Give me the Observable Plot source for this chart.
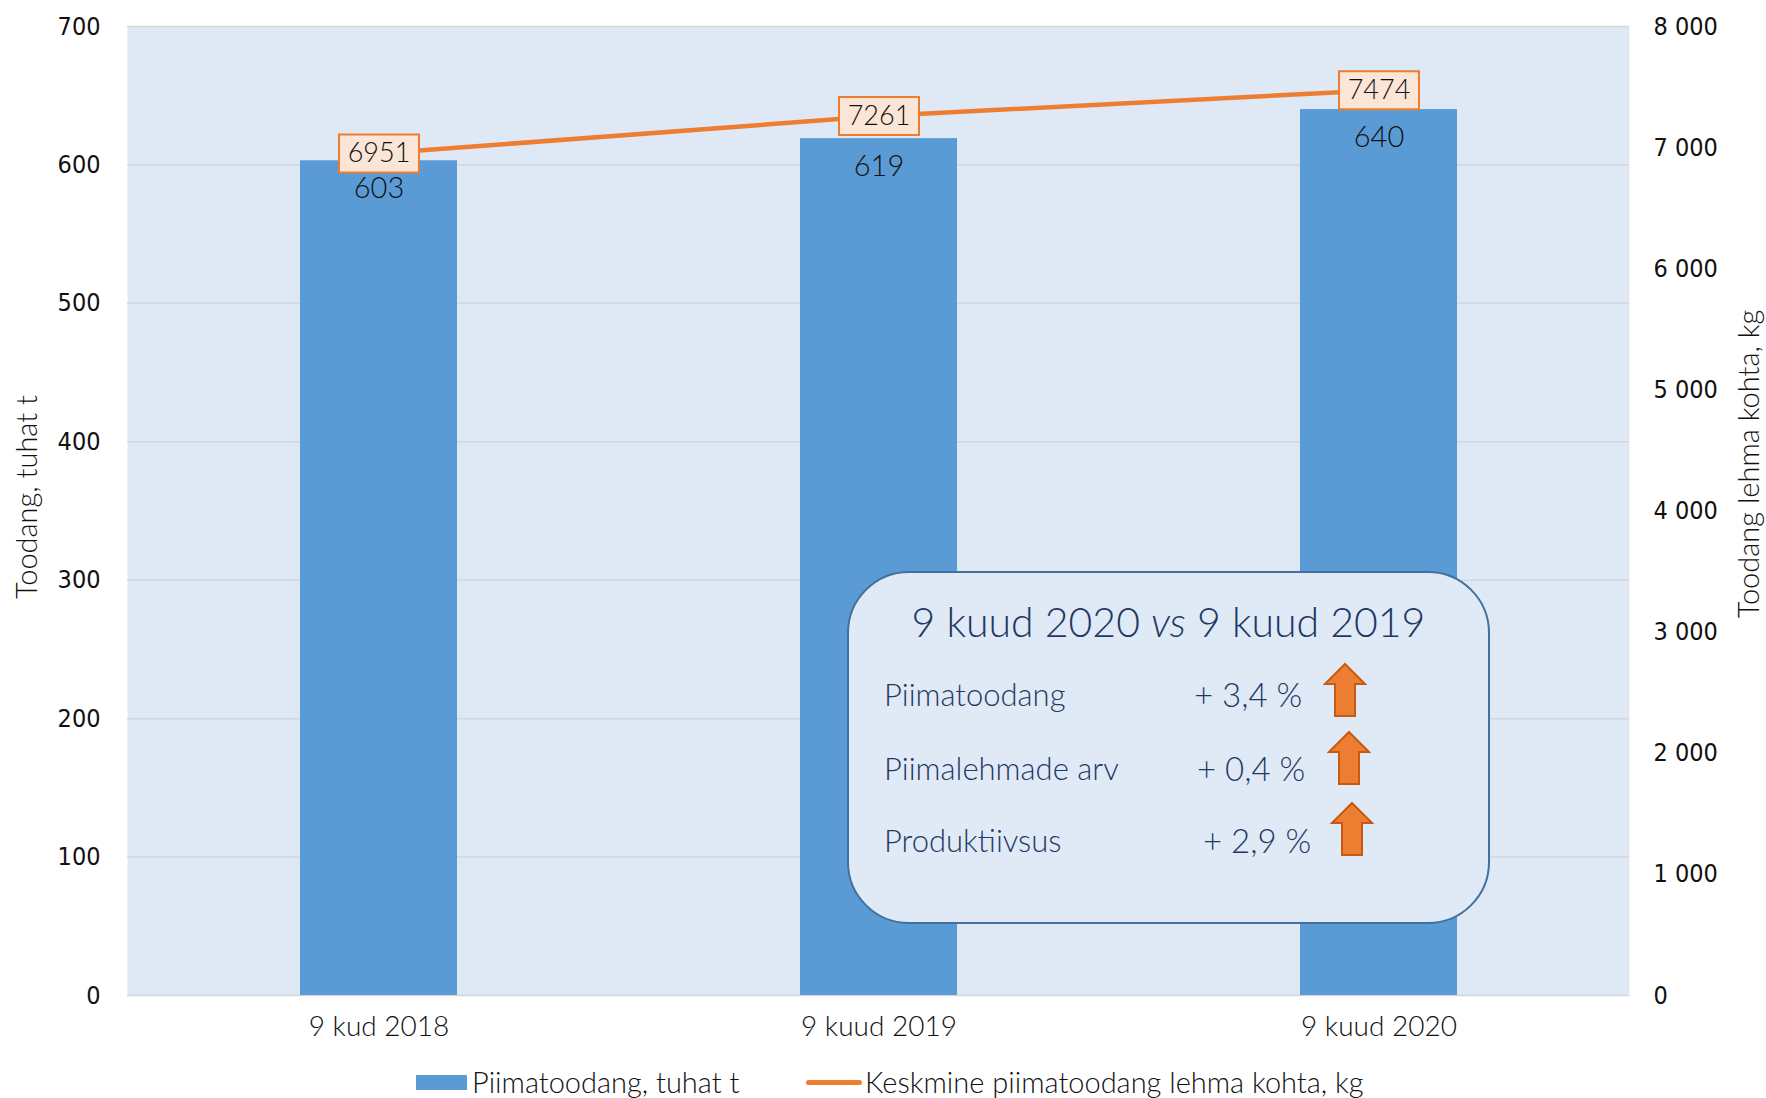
<!DOCTYPE html>
<html>
<head>
<meta charset="utf-8">
<script src="https://cdn.jsdelivr.net/npm/d3@7"></script>
<script src="https://cdn.jsdelivr.net/npm/@observablehq/plot@0.6"></script>
<style>
  html, body { margin: 0; padding: 0; background: #fff; }
  #wrap { position: relative; width: 1766px; height: 1098px; overflow: hidden; }
  #chart svg { display: block; }
  .box { position: absolute; left: 847px; top: 571px; width: 639px; height: 349px;
         border: 2.5px solid #41719c; border-radius: 62px; background: #dfeaf6;
         font-family: Lato, "Open Sans", sans-serif; font-weight: 300; color: #1f3864; }
  .box span { position: absolute; white-space: nowrap; line-height: 1; }
  .box svg { position: absolute; }
  .legend { position: absolute; top: 1066px; left: 0; width: 1766px; height: 32px;
            font-family: Lato, sans-serif; font-weight: 300; font-size: 29px; color: #111; }
  .legend span { position: absolute; white-space: nowrap; line-height: 32px; top: 0; }
  .legend i { position: absolute; display: block; }
</style>
</head>
<body>
<div id="wrap">
  <div id="chart"></div>
</div>
<script>
// ---- data ----
const categories = ["9 kud 2018", "9 kuud 2019", "9 kuud 2020"];
const production = [603, 619, 640];          // Piimatoodang, tuhat t
const perCow = [6951, 7261, 7474];           // Keskmine piimatoodang lehma kohta, kg
const leftTicks = [0, 100, 200, 300, 400, 500, 600, 700];
const rightTicks = [0, 1000, 2000, 3000, 4000, 5000, 6000, 7000, 8000];
const seriesNames = ["Piimatoodang, tuhat t", "Keskmine piimatoodang lehma kohta, kg"];
const axisTitles = ["Toodang, tuhat t", "Toodang lehma kohta, kg"];
const boxTitle = ["9 kuud 2020 ", "vs", " 9 kuud 2019"];
const boxRows = ["Piimatoodang", "Piimalehmade arv", "Produktiivsus"];
const boxValues = ["+ 3,4 %", "+ 0,4 %", "+ 2,9 %"];

const ratio = 700 / 8000;
const data = categories.map((c, i) => ({cat: c, prod: production[i], cow: perCow[i], cowY: perCow[i] * ratio}));
const fmt = v => { const n = Math.round(v); return n >= 1000 ? Math.floor(n / 1000) + " " + String(n % 1000).padStart(3, "0") : String(n); };

const boxSymbol = { draw(ctx) { ctx.rect(-40, -19, 80, 38); } };
const thin = "Lato, 'Open Sans', sans-serif";
const narrow = "'Liberation Sans Narrow', 'DejaVu Sans Condensed', sans-serif";

const chart = Plot.plot({
  width: 1766, height: 1050,
  marginTop: 26, marginBottom: 55, marginLeft: 127, marginRight: 137,
  style: { background: "transparent", color: "#111" },
  x: { type: "band", domain: categories, paddingInner: 0.686, paddingOuter: 0.343 },
  y: { domain: [0, 700] },
  marks: [
    Plot.frame({ fill: "#dee9f5", stroke: "none" }),
    Plot.ruleY(leftTicks, { stroke: "#d6d6d6", strokeWidth: 1.5 }),
    Plot.barY(data, { x: "cat", y: "prod", fill: "#5b9bd5" }),
    Plot.line(data, { x: "cat", y: "cowY", stroke: "#ed7d31", strokeWidth: 4.5 }),
    Plot.dot(data, { x: "cat", y: "cowY", symbol: boxSymbol, r: 5, fill: "#fbe5d6", stroke: "#ed7d31", strokeWidth: 2 }),
    Plot.text(data, { x: "cat", y: "cowY", text: d => String(d.cow), fontSize: 27, fontFamily: thin, fontWeight: 300, fill: "#111" }),
    Plot.text(data, { x: "cat", y: "prod", text: d => String(d.prod), dy: 28, fontSize: 29, fontFamily: thin, fontWeight: 300, fill: "#111" }),
    Plot.axisY(leftTicks, { anchor: "left", tickSize: 0, tickPadding: 27, label: null, fontSize: 25, fontFamily: narrow, fill: "#111" }),
    Plot.axisY(rightTicks.map(v => v * ratio), { anchor: "right", tickSize: 0, tickPadding: 24, label: null, tickFormat: v => fmt(v / ratio), fontSize: 25, fontFamily: narrow, fill: "#111" }),
    Plot.axisX({ anchor: "bottom", tickSize: 0, tickPadding: 21, label: null, fontSize: 28, fontFamily: thin, fontWeight: 300, fill: "#111" }),
    Plot.text([axisTitles[0]], { frameAnchor: "left", dx: -100, dy: -14, rotate: -90, textAnchor: "middle", fontSize: 29, fontFamily: thin, fontWeight: 300, fill: "#111" }),
    Plot.text([axisTitles[1]], { frameAnchor: "right", dx: 120, dy: -47, rotate: -90, textAnchor: "middle", fontSize: 29, fontFamily: thin, fontWeight: 300, fill: "#111" })
  ]
});
document.getElementById("chart").appendChild(chart);

// ---- annotation box ----
const wrap = document.getElementById("wrap");
const box = document.createElement("div");
box.className = "box";
const t = document.createElement("span");
t.style.cssText = "left:0;width:639px;text-align:center;top:28px;font-size:41px;font-weight:300;";
t.append(boxTitle[0]);
const em = document.createElement("em"); em.textContent = boxTitle[1]; t.append(em);
t.append(boxTitle[2]);
box.appendChild(t);
const rowTops = [106, 180, 252];
const valLefts = [345, 348, 354];
const arrowPos = [[474, 89], [478, 157], [481, 228]];
boxRows.forEach((r, i) => {
  const a = document.createElement("span");
  a.style.cssText = `left:35px;top:${rowTops[i]}px;font-size:31px;`;
  a.textContent = r; box.appendChild(a);
  const b = document.createElement("span");
  b.style.cssText = `left:${valLefts[i]}px;top:${rowTops[i] - 1}px;font-size:33px;`;
  b.textContent = boxValues[i]; box.appendChild(b);
  const s = document.createElementNS("http://www.w3.org/2000/svg", "svg");
  s.setAttribute("width", 44); s.setAttribute("height", 56);
  s.setAttribute("viewBox", "0 0 44 56");
  s.style.left = arrowPos[i][0] + "px"; s.style.top = arrowPos[i][1] + "px";
  s.innerHTML = '<polygon points="22,2 42,22 32,22 32,54 12,54 12,22 2,22" fill="#ed7d31" stroke="#c55a11" stroke-width="2" stroke-linejoin="miter"/>';
  box.appendChild(s);
});
wrap.appendChild(box);

// ---- legend ----
const lg = document.createElement("div");
lg.className = "legend";
lg.innerHTML = `<i style="left:416px;top:9px;width:51px;height:15px;background:#5b9bd5"></i>
<span style="left:472px">${seriesNames[0]}</span>
<i style="left:806px;top:14px;width:56px;height:5px;border-radius:3px;background:#ed7d31"></i>
<span style="left:865px">${seriesNames[1]}</span>`;
wrap.appendChild(lg);
</script>
</body>
</html>
